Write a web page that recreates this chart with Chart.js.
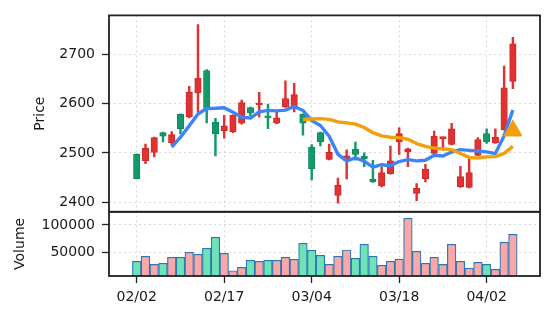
<!DOCTYPE html>
<html lang="es">
<head>
<meta charset="UTF-8">
<title>Precio y volumen</title>
<script src="https://cdn.jsdelivr.net/npm/chart.js@4.4.1/dist/chart.umd.min.js"></script>
<style>
    html, body { margin: 0; padding: 0; background: #ffffff; }
    #contenedor { width: 556px; height: 322px; }
</style>
</head>
<body>
<div id="contenedor"><canvas id="precioChart" width="556" height="322"></canvas></div>
<script>
// ========== DATOS ==========
const fechas = [
    '02/02', '02/03', '02/04', '02/05', '02/06', '02/09', '02/10', '02/11', '02/12', '02/13',
    '02/17', '02/18', '02/19', '02/20', '02/23', '02/24', '02/25', '02/26', '02/27', '03/03',
    '03/04', '03/05', '03/06', '03/09', '03/10', '03/11', '03/12', '03/13', '03/16', '03/17',
    '03/18', '03/19', '03/23', '03/24', '03/25', '03/26', '03/27', '03/30', '03/31', '04/01',
    '04/02', '04/06', '04/07', '04/08'
];
const aperturas = [
    2497, 2484, 2501, 2541, 2520, 2578, 2573, 2622, 2667, 2562,
    2545, 2543, 2560, 2592, 2597, 2575, 2560, 2593, 2591, 2578,
    2512, 2541, 2487, 2414, 2484, 2507, 2493, 2447, 2433, 2458,
    2522, 2502, 2418, 2448, 2499, 2529, 2517, 2431, 2430, 2495,
    2539, 2520, 2547, 2645
];
const maximos = [
    2498, 2518, 2532, 2542, 2543, 2579, 2635, 2760, 2669, 2570,
    2576, 2577, 2607, 2593, 2623, 2599, 2582, 2646, 2641, 2579,
    2517, 2542, 2518, 2449, 2506, 2522, 2500, 2485, 2472, 2514,
    2551, 2510, 2438, 2477, 2544, 2532, 2560, 2473, 2487, 2531,
    2549, 2549, 2676, 2734
];
const minimos = [
    2447, 2478, 2492, 2522, 2516, 2539, 2571, 2583, 2561, 2494,
    2530, 2541, 2558, 2575, 2573, 2549, 2559, 2592, 2583, 2536,
    2445, 2514, 2486, 2398, 2447, 2485, 2472, 2440, 2431, 2457,
    2497, 2472, 2403, 2441, 2497, 2506, 2516, 2430, 2429, 2494,
    2519, 2519, 2546, 2630
];
const cierres = [
    2448, 2509, 2531, 2534, 2537, 2549, 2623, 2651, 2590, 2539,
    2555, 2576, 2602, 2581, 2601, 2571, 2571, 2610, 2618, 2560,
    2468, 2522, 2501, 2435, 2494, 2497, 2488, 2441, 2460, 2484,
    2539, 2508, 2428, 2467, 2534, 2531, 2549, 2452, 2460, 2527,
    2522, 2532, 2632, 2721
];
const volumenes = [
    34500, 43500, 29000, 30900, 41700, 41700, 50700, 47100, 57900, 77800,
    48900, 17500, 23600, 36300, 34500, 36300, 36300, 41700, 38100, 67000,
    54300, 45300, 29000, 43500, 54900, 39900, 65200, 43500, 27300, 34500,
    38600, 112000, 52500, 30900, 41700, 29000, 65200, 34500, 22400, 32700,
    29000, 20000, 68800, 83200
];
const media5 = [
    null, null, null, null, 2511.8, 2532.0, 2554.8, 2578.8, 2590.0, 2590.4,
    2591.6, 2582.2, 2572.4, 2570.6, 2583.0, 2586.2, 2585.2, 2586.8, 2594.2, 2586.0,
    2565.4, 2555.6, 2533.8, 2497.2, 2484.0, 2489.8, 2483.0, 2471.0, 2476.0, 2474.0,
    2482.4, 2486.4, 2483.8, 2485.2, 2495.2, 2493.6, 2501.8, 2506.6, 2505.2, 2503.8,
    2502.0, 2498.6, 2534.6, 2586.8
];
const media20 = [
    null, null, null, null, null, null, null, null, null, null,
    null, null, null, null, null, null, null, null, null, 2567.8,
    2568.8, 2569.5, 2568.0, 2563.0, 2560.9, 2558.3, 2551.5, 2541.0, 2534.5, 2531.8,
    2531.0, 2527.6, 2518.9, 2513.2, 2509.8, 2507.8, 2506.7, 2498.8, 2490.9, 2489.3,
    2492.0, 2492.5, 2499.0, 2513.3
];
const senalIndice = 43;
const senalPrecio = 2545;

// posiciones de las marcas de cada eje
const ticksFecha = [0, 10, 20, 30, 40];
const ticksPrecio = [2400, 2500, 2600, 2700];
const ticksVolumen = [50000, 100000];

// ========== ESTILOS ==========
const ROJO = '#e03232';
const ROJO_BORDE = '#cc2a2a';
const VERDE = '#139a6b';
const VERDE_BORDE = '#0f8a5f';
const VOL_ROJO = '#f9a7a7';
const VOL_VERDE = '#6fe3b5';
const AZUL = '#3d85f5';
const NARANJA = '#f59e0b';
const fuente = { family: 'DejaVu Sans', size: 14 };
const colorTexto = '#1a1a1a';
const colorRejilla = '#d8d8d8';

const sube = (i) => cierres[i] >= aperturas[i];
const colorVela = (i) => sube(i) ? ROJO : VERDE;
const fijarTicks = (valores) => (s) => { s.ticks = valores.map(v => ({ value: v })); };

// marco negro alrededor de cada panel
const marcoPaneles = {
    id: 'marcoPaneles',
    afterDraw(chart) {
        const { ctx, chartArea } = chart;
        ctx.save();
        ctx.strokeStyle = '#222222';
        ctx.lineWidth = 1.8;
        ['y', 'yVol'].forEach(id => {
            const s = chart.scales[id];
            ctx.strokeRect(chartArea.left, s.top, chartArea.right - chartArea.left, s.bottom - s.top);
        });
        ctx.restore();
    }
};

const rejilla = { color: colorRejilla, lineWidth: 1, tickColor: '#222222', tickLength: 7, tickWidth: 1.3, offset: false };

const ctx = document.getElementById('precioChart');

new Chart(ctx, {
    type: 'bar',
    data: {
        datasets: [
            {
                type: 'scatter',
                label: 'Señal',
                data: [{ x: senalIndice, y: senalPrecio }],
                pointStyle: 'triangle',
                pointRadius: 10.5,
                backgroundColor: NARANJA,
                borderColor: NARANJA,
                borderWidth: 1,
                yAxisID: 'y',
                order: 1
            },
            {
                type: 'line',
                label: 'MA20',
                data: media20.map((v, i) => ({ x: i, y: v })),
                borderColor: NARANJA,
                borderWidth: 3.4,
                pointRadius: 0,
                tension: 0,
                borderJoinStyle: 'round',
                yAxisID: 'y',
                order: 2
            },
            {
                type: 'line',
                label: 'MA5',
                data: media5.map((v, i) => ({ x: i, y: v })),
                borderColor: AZUL,
                borderWidth: 3.4,
                pointRadius: 0,
                tension: 0,
                borderJoinStyle: 'round',
                yAxisID: 'y',
                order: 3
            },
            {
                label: 'Cuerpo',
                data: aperturas.map((o, i) => ({ x: i, y: [o, cierres[i]] })),
                backgroundColor: c => colorVela(c.dataIndex),
                borderColor: c => sube(c.dataIndex) ? ROJO_BORDE : VERDE_BORDE,
                borderWidth: 1,
                borderSkipped: false,
                minBarLength: 2,
                barThickness: 6.5,
                grouped: false,
                yAxisID: 'y',
                order: 4
            },
            {
                label: 'Mecha',
                data: minimos.map((l, i) => ({ x: i, y: [l, maximos[i]] })),
                backgroundColor: c => colorVela(c.dataIndex),
                borderWidth: 0,
                barThickness: 1.8,
                grouped: false,
                yAxisID: 'y',
                order: 5
            },
            {
                label: 'Volume',
                data: volumenes.map((v, i) => ({ x: i, y: v })),
                backgroundColor: c => sube(c.dataIndex) ? VOL_ROJO : VOL_VERDE,
                borderColor: '#2b78b6',
                borderWidth: 1.2,
                borderSkipped: false,
                barThickness: 8.6,
                grouped: false,
                yAxisID: 'yVol',
                order: 6
            }
        ]
    },
    options: {
        responsive: false,
        animation: false,
        layout: { padding: { top: 15, right: 16, left: 0, bottom: 0 } },
        plugins: {
            legend: { display: false },
            tooltip: { enabled: false }
        },
        scales: {
            x: {
                type: 'linear',
                offset: false,
                min: -3.17,
                max: 46.1,
                afterBuildTicks: fijarTicks(ticksFecha),
                ticks: {
                    autoSkip: false,
                    maxRotation: 0,
                    padding: 6,
                    color: colorTexto,
                    font: fuente,
                    callback: (v) => fechas[v] ?? ''
                },
                grid: rejilla,
                border: { display: false, dash: [2, 3] },
                afterFit: (s) => { s.height = 46; }
            },
            // el panel de volumen se declara antes para que quede debajo
            yVol: {
                type: 'linear',
                position: 'left',
                stack: 'paneles',
                stackWeight: 64.3,
                min: 8000,
                max: 123800,
                afterBuildTicks: fijarTicks(ticksVolumen),
                ticks: {
                    padding: 7,
                    color: colorTexto,
                    font: fuente,
                    callback: (v) => String(v)
                },
                grid: rejilla,
                border: { display: false, dash: [2, 3] },
                title: { display: true, text: 'Volume', color: colorTexto, font: fuente, padding: { top: 12, bottom: 0 } },
                afterFit: (s) => { s.width = 109; }
            },
            y: {
                type: 'linear',
                position: 'left',
                stack: 'paneles',
                stackWeight: 196.7,
                min: 2380.6,
                max: 2778.7,
                afterBuildTicks: fijarTicks(ticksPrecio),
                ticks: {
                    padding: 7,
                    color: colorTexto,
                    font: fuente,
                    callback: (v) => String(v)
                },
                grid: rejilla,
                border: { display: false, dash: [2, 3] },
                title: { display: true, text: 'Price', color: colorTexto, font: fuente, padding: { top: 32, bottom: 0 } },
                afterFit: (s) => { s.width = 109; }
            }
        }
    },
    plugins: [marcoPaneles]
});
</script>
</body>
</html>
